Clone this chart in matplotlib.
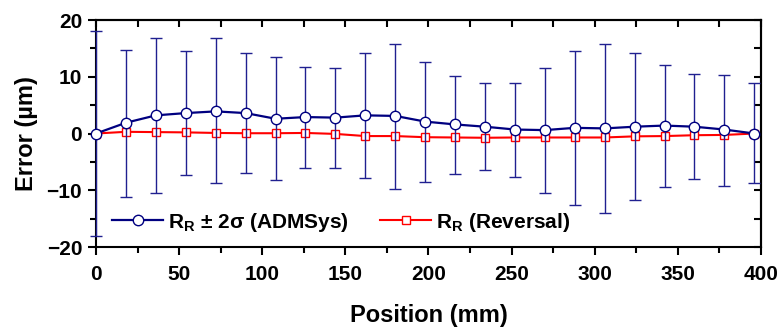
import numpy as np
import matplotlib
matplotlib.use('Agg')
import matplotlib.pyplot as plt
from matplotlib.ticker import MultipleLocator

plt.rcParams['font.family'] = ['Liberation Sans', 'DejaVu Sans']
plt.rcParams['font.weight'] = 'bold'
plt.rcParams['mathtext.fontset'] = 'custom'
plt.rcParams['mathtext.rm'] = 'Liberation Sans:bold'
plt.rcParams['mathtext.it'] = 'Liberation Sans:bold'
plt.rcParams['mathtext.bf'] = 'Liberation Sans:bold'

position = [0, 18, 36, 54, 72, 90, 108, 126, 144, 162, 180, 198,
            216, 234, 252, 270, 288, 306, 324, 342, 360, 378, 396]
admsys = [0.0, 1.9, 3.2, 3.6, 3.9, 3.6, 2.6, 2.9, 2.8, 3.2, 3.1, 2.1,
          1.6, 1.2, 0.7, 0.6, 1.0, 0.9, 1.2, 1.4, 1.2, 0.7, 0.0]
err_hi = [18.0, 12.9, 13.6, 10.9, 12.9, 10.6, 10.8, 8.9, 8.8, 10.9, 12.7, 10.5,
          8.6, 7.7, 8.2, 11.0, 13.5, 14.9, 12.9, 10.7, 9.2, 9.6, 8.9]
err_lo = [18.0, 13.0, 13.6, 10.9, 12.7, 10.6, 10.8, 9.0, 8.9, 11.0, 12.8, 10.6,
          8.7, 7.6, 8.3, 11.1, 13.6, 14.9, 12.9, 10.9, 9.3, 9.9, 8.8]
reversal = [0.0, 0.3, 0.25, 0.2, 0.1, 0.05, 0.05, 0.1, -0.07, -0.45, -0.45, -0.65,
            -0.7, -0.75, -0.7, -0.7, -0.7, -0.7, -0.5, -0.45, -0.3, -0.25, 0.0]

fig = plt.figure(figsize=(7.82, 3.27), dpi=100)
ax = fig.add_axes([0.1228, 0.2446, 0.8503, 0.6942])

navy = '#000080'
ax.plot(position, reversal, color='#ff0000', lw=1.5, marker='s', ms=5.5,
        mfc='white', mec='#ff0000', mew=1.0, zorder=2,
        label=r'$\mathrm{R_R}$ (Reversal)')
ax.errorbar(position, admsys, yerr=[err_lo, err_hi], fmt='none', ecolor='#202090',
            elinewidth=1.0, capsize=4.5, capthick=1.0, zorder=3, clip_on=False)
ax.plot(position, admsys, color=navy, lw=1.6, marker='o', ms=7.5,
        mfc='white', mec=navy, mew=1.0, zorder=4, clip_on=False,
        label=r'$\mathrm{R_R}$ ± 2σ (ADMSys)')

ax.set_xlim(0, 400)
ax.set_ylim(-20, 20)
ax.xaxis.set_major_locator(MultipleLocator(50))
ax.xaxis.set_minor_locator(MultipleLocator(25))
ax.yaxis.set_major_locator(MultipleLocator(10))
ax.yaxis.set_minor_locator(MultipleLocator(5))
ax.tick_params(which='major', direction='out', length=6, width=1.5, labelsize=15)
ax.tick_params(which='minor', direction='out', length=4, width=1.5)
ax.tick_params(axis='x', which='major', pad=7)
ax.tick_params(axis='y', which='major', pad=4)
for s in ax.spines.values():
    s.set_linewidth(1.5)

# inward ticks on top and right
top = ax.secondary_xaxis('top')
top.xaxis.set_major_locator(MultipleLocator(25))
top.tick_params(direction='in', length=5, width=1.5, labeltop=False)
right = ax.secondary_yaxis('right')
right.yaxis.set_major_locator(MultipleLocator(5))
right.tick_params(direction='in', length=5, width=1.5, labelright=False)
top.spines['top'].set_linewidth(1.5)
right.spines['right'].set_linewidth(1.5)

ax.set_xlabel('Position (mm)', fontsize=17, fontweight='bold', labelpad=14)
ax.set_ylabel('Error (µm)', fontsize=17, fontweight='bold', labelpad=6)

h, l = ax.get_legend_handles_labels()
ax.legend(h[::-1], l[::-1], loc='center left', bbox_to_anchor=(0.024, 0.11), ncol=2,
          frameon=False, fontsize=15, handlelength=2.45, columnspacing=1.5,
          handletextpad=0.25, borderpad=0, borderaxespad=0)

fig.savefig('out.png', dpi=100)
